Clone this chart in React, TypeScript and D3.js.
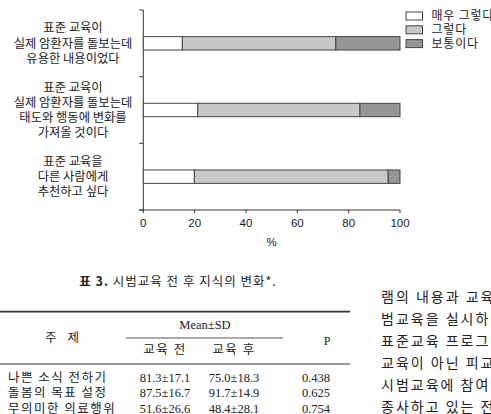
import * as d3 from 'd3'
import React from 'react'

// survey items (labels split into lines)
const items = [
  ['표준 교육이', '실제 암환자를 돌보는데', '유용한 내용이었다'],
  ['표준 교육이', '실제 암환자를 돌보는데', '태도와 행동에 변화를', '가져올 것이다'],
  ['표준 교육을', '다른 사람에게', '추천하고 싶다'],
]
const responses = ['매우 그렇다', '그렇다', '보통이다']
const veryAgree = [15.2, 21.2, 19.9]
const agree = [59.8, 63.2, 75.5]
const neutral = [25.0, 15.6, 4.6]
const xTicks = [0, 20, 40, 60, 80, 100]

// table 3
const tableTitle = '시범교육 전 후 지식의 변화*.'
const topics = ['나쁜 소식 전하기', '돌봄의 목표 설정', '무의미한 의료행위']
const before = ['81.3±17.1', '87.5±16.7', '51.6±26.6']
const after = ['75.0±18.3', '91.7±14.9', '48.4±28.1']
const pValues = ['0.438', '0.625', '0.754']

// body text on the right column
const bodyLines = [
  '램의 내용과 교육',
  '범교육을 실시하',
  '표준교육 프로그',
  '교육이 아닌 피교',
  '시범교육에 참여',
  '종사하고 있는 전',
]

const colors = ['#ffffff', '#c8c8c8', '#969696']
const sans = '"Liberation Sans", "Noto Sans CJK KR", sans-serif'
const korSans = '"Noto Sans CJK KR", "Liberation Sans", sans-serif'
const serif = '"Liberation Serif", "Noto Sans CJK KR", serif'

const App = () => {
  const width = 491
  const height = 414

  const x = d3.scaleLinear().domain([0, 100]).range([143.3, 400])
  const keys = items.map((_, i) => 'q' + i)
  const y = d3.scaleBand().domain(keys).range([10, 210])
  const barH = 13.4

  const rows = keys.map((k, i) => ({ key: k, v0: veryAgree[i], v1: agree[i], v2: neutral[i] }))
  const stack = d3.stack<any>().keys(['v0', 'v1', 'v2'])
  const series = stack(rows)

  const tableRowY = d3.scalePoint().domain(topics).range([377.7, 408.3])

  return (
    <svg width={width} height={height} style={{ position: 'absolute', left: 0, top: 0, background: '#fff' }}>
      <rect width={width} height={height} fill="#fff" />

      {/* y axis */}
      <line x1={x(0)} x2={x(0)} y1={10} y2={210} stroke="#333" strokeWidth={1} />
      {[...keys.map(k => y(k)!), 210].map((yy, i) => (
        <line key={i} x1={x(0) - 4} x2={x(0)} y1={yy} y2={yy} stroke="#333" />
      ))}

      {/* category labels */}
      {items.map((lines, i) => {
        const cy = y(keys[i])! + y.bandwidth() / 2
        const lh = 15.2
        const start = cy - ((lines.length - 1) * lh) / 2
        return (
          <text key={i} textAnchor="middle" fontFamily={korSans} fontSize={12.3} fill="#222">
            {lines.map((l, j) => (
              <tspan key={j} x={73} y={start + j * lh} dy="0.35em">{l}</tspan>
            ))}
          </text>
        )
      })}

      {/* bars */}
      {series.map((s, si) => (
        <g key={si}>
          {s.map((d, i) => (
            <rect
              key={i}
              x={x(d[0])}
              y={y(keys[i])! + y.bandwidth() / 2 - barH / 2}
              width={x(d[1]) - x(d[0])}
              height={barH}
              fill={colors[si]}
              stroke="#444"
              strokeWidth={1}
            />
          ))}
        </g>
      ))}

      {/* x axis */}
      <line x1={x(0) - 4} x2={x(100)} y1={210} y2={210} stroke="#333" />
      {xTicks.map(t => (
        <g key={t}>
          <line x1={x(t)} x2={x(t)} y1={210} y2={213} stroke="#333" />
          <text x={x(t)} y={223} dy="0.35em" textAnchor="middle" fontFamily={sans} fontSize={11.5} fill="#222">{t}</text>
        </g>
      ))}
      <text x={x(50)} y={242} dy="0.35em" textAnchor="middle" fontFamily={sans} fontSize={11.5} fill="#222">%</text>

      {/* legend */}
      {responses.map((r, i) => (
        <g key={r}>
          <rect x={406} y={12 + i * 13.8} width={16.5} height={8} fill={colors[i]} stroke="#444" />
          <text x={431.5} y={16 + i * 13.8} dy="0.35em" fontFamily={korSans} fontSize={12} letterSpacing={0.8} fill="#222">{r}</text>
        </g>
      ))}

      {/* table */}
      <text x={178} y={282} dy="0.35em" textAnchor="middle" fontFamily={korSans} fontSize={12.5} letterSpacing={1} fill="#222">
        <tspan fontWeight="bold">표 3.</tspan> {tableTitle}
      </text>
      <line x1={0} x2={350} y1={311.7} y2={311.7} stroke="#333" strokeWidth={1.8} />
      <text x={205} y={325} dy="0.35em" textAnchor="middle" fontFamily={serif} fontSize={12.5} fill="#222">Mean±SD</text>
      <line x1={126} x2={283} y1={338} y2={338} stroke="#555" strokeWidth={1} />
      <text x={64} y={338} dy="0.35em" textAnchor="middle" fontFamily={korSans} fontSize={12.5} letterSpacing={4} fill="#222">주 제</text>
      <text x={165} y={350} dy="0.35em" textAnchor="middle" fontFamily={korSans} fontSize={12.5} letterSpacing={1.5} fill="#222">교육 전</text>
      <text x={234} y={350} dy="0.35em" textAnchor="middle" fontFamily={korSans} fontSize={12.5} letterSpacing={1.5} fill="#222">교육 후</text>
      <text x={327} y={341} dy="0.35em" textAnchor="middle" fontFamily={serif} fontSize={12} fill="#222">P</text>
      <line x1={0} x2={350} y1={364} y2={364} stroke="#777" strokeWidth={1.3} />
      {topics.map((t, i) => (
        <g key={t}>
          <text x={8} y={tableRowY(t)} dy="0.35em" fontFamily={korSans} fontSize={12.5} letterSpacing={1.5} fill="#222">{t}</text>
          <text x={165} y={tableRowY(t)} dy="0.35em" textAnchor="middle" fontFamily={serif} fontSize={12.5} fill="#222">{before[i]}</text>
          <text x={234} y={tableRowY(t)} dy="0.35em" textAnchor="middle" fontFamily={serif} fontSize={12.5} fill="#222">{after[i]}</text>
          <text x={316} y={tableRowY(t)} dy="0.35em" textAnchor="middle" fontFamily={serif} fontSize={12.5} fill="#222">{pValues[i]}</text>
        </g>
      ))}

      {/* right column body text */}
      {bodyLines.map((l, i) => (
        <text key={i} x={381} y={297 + i * 22} dy="0.35em" fontFamily={korSans} fontSize={14} letterSpacing={2} fill="#222">{l}</text>
      ))}
    </svg>
  )
}

export default App
